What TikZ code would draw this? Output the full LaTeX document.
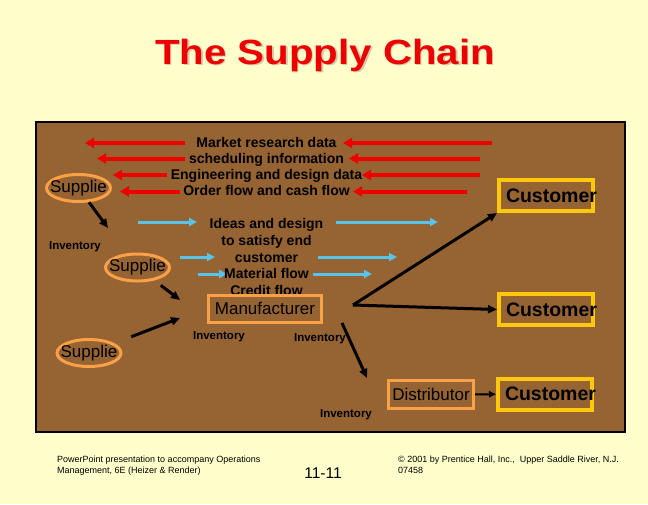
\documentclass[tikz,border=0pt]{standalone}
\usepackage{fontspec}
\setmainfont{Liberation Sans}
\usetikzlibrary{shapes.geometric,arrows.meta}
\definecolor{slidebg}{RGB}{255,255,204}
\definecolor{panelbrown}{RGB}{150,99,50}
\definecolor{flowred}{RGB}{238,0,0}
\definecolor{flowblue}{RGB}{90,195,235}
\definecolor{boxorange}{RGB}{250,160,70}
\definecolor{boxgold}{RGB}{255,200,10}
\definecolor{titleshade}{RGB}{215,200,170}

\begin{document}
\begin{tikzpicture}
[x=1pt,y=-1pt]
\tikzset{memberlabel/.style={inner sep=0pt,text=black,font=\fontsize{17}{17}\selectfont}}
\tikzset{supplier/.style={ellipse,draw=boxorange,line width=3pt,minimum width=64pt,minimum height=27pt,inner sep=0pt}}
\tikzset{plant/.style={rectangle,draw=boxorange,line width=3pt,inner sep=0pt}}
\tikzset{customer/.style={rectangle,draw=boxgold,line width=4pt,minimum width=94pt,minimum height=31pt,inner sep=0pt,font=\fontsize{19.5}{19.5}\selectfont\bfseries}}
\tikzset{flowtext/.style={anchor=base,inner sep=0pt,font=\fontsize{14}{14}\selectfont\bfseries}}
\tikzset{stock/.style={anchor=base,inner sep=0pt,font=\fontsize{11.5}{11.5}\selectfont\bfseries}}
\tikzset{footnote/.style={anchor=base west,inner sep=0pt,align=left,font=\fontsize{9}{10.5}\selectfont}}
\tikzset{redflow/.style={draw=flowred,line width=4pt,-{Triangle[length=9pt,width=10pt]}}}
\tikzset{blueflow/.style={draw=flowblue,line width=3pt,-{Triangle[length=8pt,width=8pt]}}}
\tikzset{link/.style={draw=black,line width=3pt,-{Triangle[length=9pt,width=8pt]}}}

\path[use as bounding box,fill=slidebg] (0,0) rectangle (648,504);
\filldraw[fill=panelbrown,draw=black,line width=1.2pt] (36,122) rectangle (625,432);

% title with its shadow
\node [anchor=base,text=titleshade,font=\fontsize{35}{35}\selectfont\bfseries,xscale=1.15,transform shape] (shade) at (326.5,65.5) {The Supply Chain};
\node [anchor=base,text=flowred,font=\fontsize{35}{35}\selectfont\bfseries,xscale=1.15,transform shape] (title) at (325,64) {The Supply Chain};

% flows
\foreach \n/\xs/\xt/\y in {1/492/343/143,2/480/349/158.5,3/480/362/175,4/467/353/191.5,
                           5/185/85/143,6/185/97/158.5,7/167/113/175,8/180/120/191.5}
{
  \coordinate (r\n s) at (\xs,\y);
  \coordinate (r\n t) at (\xt,\y);
}
\foreach \n/\xs/\xt/\y in {1/138/197/222,2/336/438/222,3/180/215/257,4/318/397/257,5/198/227/274,6/313/372/274}
{
  \coordinate (b\n s) at (\xs,\y);
  \coordinate (b\n t) at (\xt,\y);
}
\foreach \from/\to in {r1s/r1t,r2s/r2t,r3s/r3t,r4s/r4t,r5s/r5t,r6s/r6t,r7s/r7t,r8s/r8t}
	\draw[redflow] (\from) -- (\to);
\foreach \from/\to in {b1s/b1t,b2s/b2t,b3s/b3t,b4s/b4t,b5s/b5t,b6s/b6t}
	\draw[blueflow] (\from) -- (\to);

\node [flowtext] (market) at (266.5,147.5) {Market research data};
\node [flowtext] (sched) at (266.5,163) {scheduling information};
\node [flowtext] (engin) at (266.5,179.5) {Engineering and design data};
\node [flowtext] (order) at (266.5,195.5) {Order flow and cash flow};
\node [flowtext] (ideas) at (266.5,228) {Ideas and design};
\node [flowtext] (satisfy) at (266.5,245) {to satisfy end};
\node [flowtext] (endcust) at (266.5,262) {customer};
\node [flowtext] (material) at (266.5,278) {Material flow};
\node [flowtext] (credit) at (266.5,295) {Credit flow};

% chain members
\node [supplier,label={[memberlabel]center:Supplie}] (sup1) at (78.5,188) {};
\node [supplier,label={[memberlabel]center:Supplie}] (sup2) at (137.5,267.5) {};
\node [supplier,label={[memberlabel]center:Supplie}] (sup3) at (89,353) {};
\node [plant,minimum width=113pt,minimum height=27pt,label={[memberlabel]center:Manufacturer}] (manu) at (265,308.5) {};
\node [plant,minimum width=85pt,minimum height=28pt,label={[memberlabel]center:Distributor}] (dist) at (431,394.5) {};
\node [customer] (cust1) at (546,195.5) {\makebox[80pt][l]{Customer}};
\node [customer] (cust2) at (546,309.5) {\makebox[80pt][l]{Customer}};
\node [customer] (cust3) at (545,394) {\makebox[80pt][l]{Customer}};

\node [stock] (inv1) at (75,249) {Inventory};
\node [stock] (inv2) at (219,339) {Inventory};
\node [stock] (inv3) at (320,341) {Inventory};
\node [stock] (inv4) at (346,417) {Inventory};

\coordinate (s1end) at (108,228);
\coordinate (s2end) at (180,300);
\coordinate (s3end) at (180,318);
\coordinate (hub) at (353,305);
\coordinate (mdown) at (342,323);
\coordinate (dend) at (367,378);

\foreach \from/\to in {sup1/s1end,hub/cust1.south west,hub/cust2.west,mdown/dend}
	\draw[link] (\from) -- (\to);
\draw[link,shorten <=8pt] (sup2) -- (s2end);
\draw[link,shorten <=18pt] (sup3) -- (s3end);
\draw[link,line width=2pt,-{Triangle[length=7pt,width=6pt]}] (dist) -- (cust3);

% footer
\node [footnote] (credits) at (57,473) {PowerPoint presentation to accompany Operations\\Management, 6E (Heizer \& Render)};
\node [anchor=base,inner sep=0pt,font=\fontsize{15.5}{15.5}\selectfont] (slideno) at (323,478) {11-11};
\node [footnote] (copy) at (398,473) {\textcopyright{} 2001 by Prentice Hall, Inc.,~ Upper Saddle River, N.J.\\07458};

\end{tikzpicture}
\end{document}
